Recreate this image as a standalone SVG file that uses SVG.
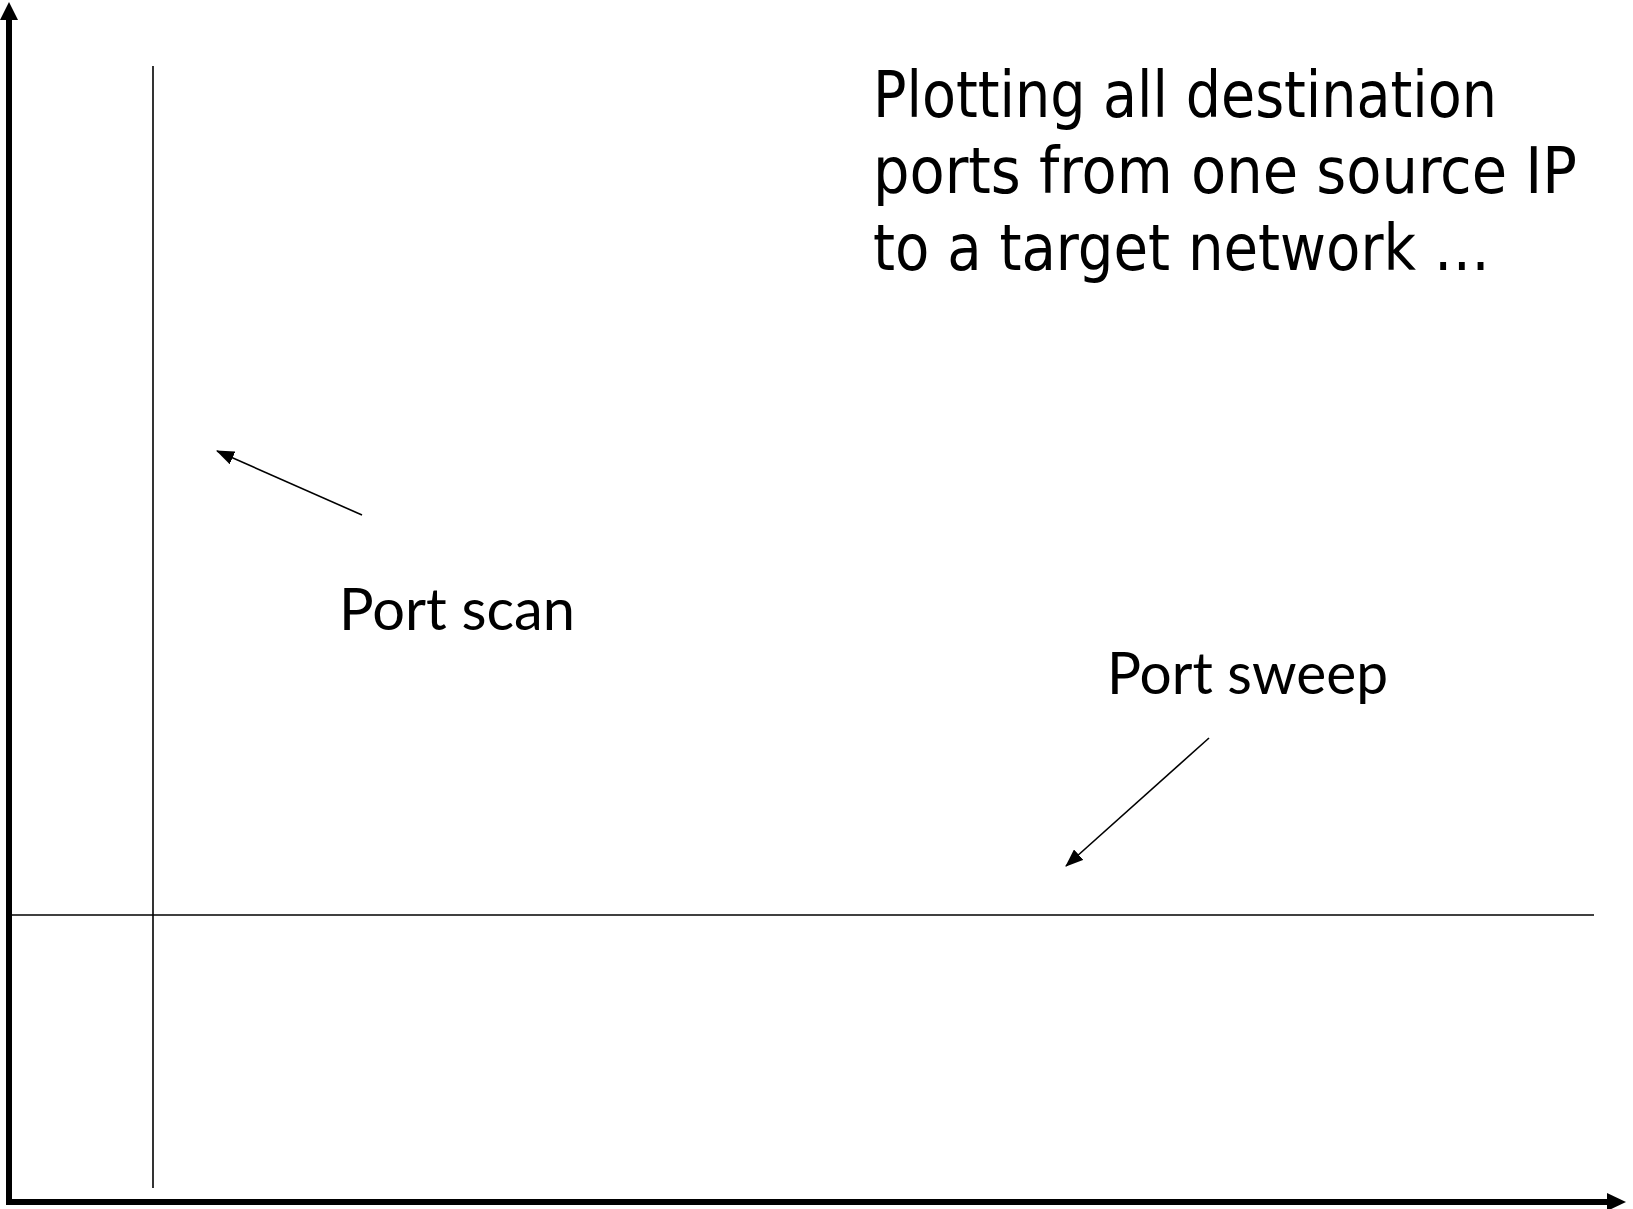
<svg xmlns="http://www.w3.org/2000/svg" width="1633" height="1209" viewBox="0 0 1633 1209">
<style>
.thin{stroke:#000;stroke-width:1.6;fill:none}
.axis{stroke:#000;stroke-width:6;fill:none}
.title{font-family:"DejaVu Sans Condensed","DejaVu Sans",sans-serif;font-size:64px;fill:#000}
.hand{font-family:"Lato","Open Sans",sans-serif;font-weight:400;font-size:58px;fill:#000}
</style>
<defs>
<marker id="ah" viewBox="0 0 18 14" refX="17" refY="7" markerWidth="18" markerHeight="14" markerUnits="userSpaceOnUse" orient="auto">
<path d="M0,0 L18,7 L0,14 z" fill="#000"/>
</marker>
</defs>
<rect width="1633" height="1209" fill="#fff"/>
<g id="axes">
<line class="axis" x1="9" y1="1205" x2="9" y2="18"/>
<path d="M0,20 L9,2 L18,20 z" fill="#000"/>
<line class="axis" x1="6" y1="1202" x2="1609" y2="1202"/>
<path d="M1607,1193 L1626,1202 L1607,1211 z" fill="#000"/>
<line class="thin" x1="153" y1="66" x2="153" y2="1188"/>
<line class="thin" x1="9" y1="915" x2="1594" y2="915"/>
</g>
<g id="connectors">
<line class="thin" x1="362" y1="515" x2="217" y2="451" marker-end="url(#ah)"/>
<line class="thin" x1="1209" y1="738" x2="1066" y2="866" marker-end="url(#ah)"/>
</g>
<g id="title">
<text class="title" x="873" y="117" textLength="624" lengthAdjust="spacingAndGlyphs">Plotting all destination</text>
<text class="title" x="873" y="193" textLength="704" lengthAdjust="spacingAndGlyphs">ports from one source IP</text>
<text class="title" x="873" y="270" textLength="617" lengthAdjust="spacingAndGlyphs">to a target network …</text>
</g>
<g id="port-scan">
<text class="hand" x="339" y="630" textLength="236" lengthAdjust="spacingAndGlyphs">Port scan</text>
</g>
<g id="port-sweep">
<text class="hand" x="1107" y="694" textLength="281" lengthAdjust="spacingAndGlyphs">Port sweep</text>
</g>
</svg>
